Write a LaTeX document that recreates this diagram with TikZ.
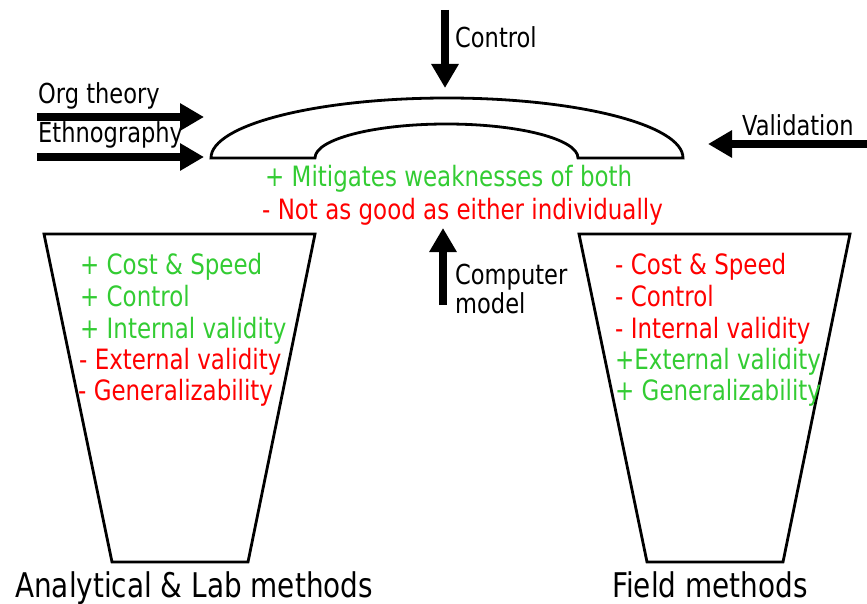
\documentclass[tikz,border=0pt]{standalone}
\usepackage{fontspec}
\setmainfont{DejaVu Sans}[FakeStretch=0.82]
\usetikzlibrary{arrows.meta}
\definecolor{pgreen}{RGB}{51,204,51}
\definecolor{pred}{RGB}{255,0,0}
\begin{document}
\begin{tikzpicture}[x=1pt,y=-1pt,
  shape line/.style={draw=black,line width=2.8pt,line join=miter},
  big arrow/.style={line width=7.5pt,-{Triangle[length=24pt,width=26pt]}},
  item/.style={anchor=base west,inner sep=0pt,font=\fontsize{28}{33}\selectfont},
  lbl/.style={anchor=base west,inner sep=0pt,font=\fontsize{27.5}{32}\selectfont},
  title/.style={anchor=base west,inner sep=0pt,font=\fontsize{34}{40}\selectfont},
  good/.style={text=pgreen},
  bad/.style={text=pred}]
\useasboundingbox (0,0) rectangle (867,604);
% arch
\draw[shape line] (211,158) .. controls (211,124.9) and (316.7,98) .. (447,98)
  .. controls (577.3,98) and (683,124.9) .. (683,158) -- (578,158)
  .. controls (578,139.2) and (519.1,124) .. (446.5,124)
  .. controls (373.9,124) and (315,139.2) .. (315,158) -- cycle;
% trapezoids
\draw[shape line] (44,234) -- (315,234) -- (248,562) -- (112,562) -- cycle;
\draw[shape line] (579,234) -- (850,234) -- (783,562) -- (647,562) -- cycle;
% arrow anchors
\coordinate (ctrlS) at (445,10);  \coordinate (ctrlE) at (445,88);
\coordinate (compS) at (443,305); \coordinate (compE) at (443,228);
\coordinate (orgS) at (37,117);   \coordinate (orgE) at (204,117);
\coordinate (ethS) at (37,157);   \coordinate (ethE) at (204,157);
\coordinate (valS) at (868,144);  \coordinate (valE) at (708,144);
\draw[big arrow] (ctrlS) -- (ctrlE);
\draw[big arrow] (compS) -- (compE);
\draw[big arrow] (orgS) -- (orgE);
\draw[big arrow] (ethS) -- (ethE);
\draw[big arrow] (valS) -- (valE);
% labels
\node[lbl] (lctrl) at (455,48) {Control};
\node[lbl] (lorg) at (38,104) {Org theory};
\node[lbl] (leth) at (38,143) {Ethnography};
\node[lbl] (lval) at (742,136) {Validation};
\node[lbl] (lcomp1) at (455,284) {Computer};
\node[lbl] (lcomp2) at (455,313) {model};
\node[item,good] (mit) at (265,186) {+ Mitigates weaknesses of both};
\node[item,bad] (not) at (262,219) {- Not as good as either individually};
% left list
\node[item,good] (a1) at (80,274) {+ Cost \& Speed};
\node[item,good] (a2) at (80,306) {+ Control};
\node[item,good] (a3) at (80,338) {+ Internal validity};
\node[item,bad] (a4) at (79,369) {- External validity};
\node[item,bad] (a5) at (78,400) {- Generalizability};
% right list
\node[item,bad] (b1) at (615,274) {- Cost \& Speed};
\node[item,bad] (b2) at (615,306) {- Control};
\node[item,bad] (b3) at (615,338) {- Internal validity};
\node[item,good] (b4) at (615,369) {+External validity};
\node[item,good] (b5) at (615,400) {+ Generalizability};
% titles
\node[title] (t1) at (15,597) {Analytical \& Lab methods};
\node[title] (t2) at (612,597) {Field methods};
\end{tikzpicture}
\end{document}
